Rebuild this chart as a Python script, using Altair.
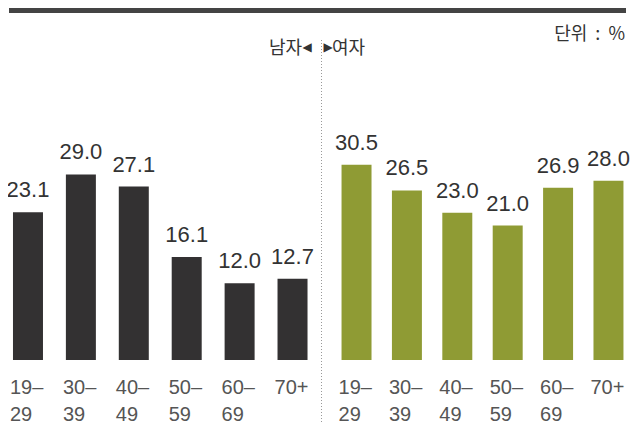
import altair as alt
import pandas as pd

ages = ["19–29", "30–39", "40–49", "50–59", "60–69", "70+"]
male = [23.1, 29.0, 27.1, 16.1, 12.0, 12.7]
female = [30.5, 26.5, 23.0, 21.0, 26.9, 28.0]

SANS = "Liberation Sans, Arial, sans-serif"
KR = "Noto Sans CJK KR"

df_m = pd.DataFrame({"age": ages, "value": male})
df_f = pd.DataFrame({"age": ages, "value": female})
one = pd.DataFrame({"k": [0]})

label_expr = ("length(datum.label) > 3 ? [substring(datum.label, 0, 3), "
              "substring(datum.label, 3)] : datum.label")


def panel(df, color, pin, pout):
    axis = alt.Axis(title=None, labelAngle=0, domain=False, ticks=False, grid=False,
                    labelAlign="left", labelBaseline="top", labelOffset=-18,
                    labelPadding=17, labelFont=SANS, labelFontSize=20,
                    labelColor="#555555", labelLineHeight=27, labelExpr=label_expr)
    base = alt.Chart(df).encode(
        x=alt.X("age:N", sort=ages, axis=axis,
                scale=alt.Scale(paddingInner=pin, paddingOuter=pout)),
        y=alt.Y("value:Q", axis=None, scale=alt.Scale(domain=[0, 55])),
    )
    bars = base.mark_bar(color=color)
    txt = base.mark_text(baseline="alphabetic", dy=-15, font=SANS, fontSize=22,
                         color="#333333").encode(text=alt.Text("value:Q", format=".1f"))
    return bars, txt


mb, mt = panel(df_m, "#333132", 0.433, 0.113)
fb, ft = panel(df_f, "#8f9b34", 0.405, 0.1)

top_rule = alt.Chart(one).mark_rule(color="#444444", strokeWidth=5).encode(
    x=alt.value(2), x2=alt.value(619), y=alt.value(2.5))
divider = alt.Chart(one).mark_rule(color="#999999", strokeWidth=1, strokeDash=[1, 2]).encode(
    x=alt.value(314.5), y=alt.value(32), y2=alt.value(416))
men = alt.Chart(one).mark_text(text="남자", font=KR, fontSize=18, align="right",
                               baseline="alphabetic", color="#333333").encode(
    x=alt.value(295), y=alt.value(46))
larr = alt.Chart(one).mark_text(text="◀", font="DejaVu Sans", fontSize=12, align="center",
                                baseline="middle", color="#333333").encode(
    x=alt.value(300), y=alt.value(39))
rarr = alt.Chart(one).mark_text(text="▶", font="DejaVu Sans", fontSize=12, align="center",
                                baseline="middle", color="#333333").encode(
    x=alt.value(321), y=alt.value(39))
women = alt.Chart(one).mark_text(text="여자", font=KR, fontSize=18, align="left",
                                 baseline="alphabetic", color="#333333").encode(
    x=alt.value(325), y=alt.value(46))
unit = alt.Chart(one).mark_text(text="단위\u00a0\u00a0:\u00a0\u00a0%", font=KR, fontSize=18,
                                align="right", baseline="alphabetic", color="#333333").encode(
    x=alt.value(618), y=alt.value(32))

left = alt.layer(mb, mt, top_rule, divider, men, larr, rarr, women, unit).properties(
    width=306.5, height=352)
right = alt.layer(fb, ft).properties(width=292, height=352)

chart = alt.hconcat(left, right, spacing=22.5, bounds="flush").properties(
    padding={"left": -2, "top": 0, "right": 0, "bottom": 0}
).configure_view(stroke=None)

chart.save("out.html", embed_options={"renderer": "svg", "actions": False})
